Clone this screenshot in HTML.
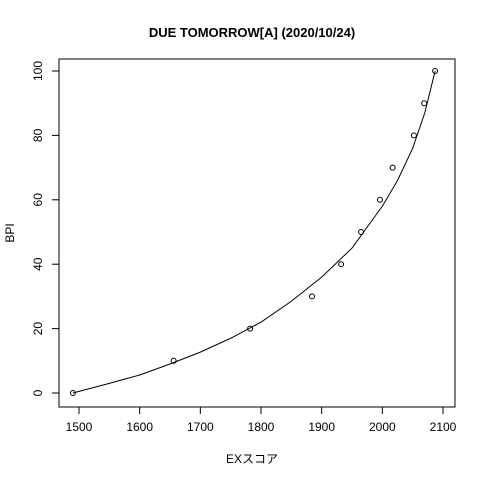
<!DOCTYPE html>
<html><head><meta charset="utf-8"><style>
body{margin:0;background:#fff}
svg text{font-family:"Liberation Sans","Noto Sans CJK JP",sans-serif;font-size:12px;fill:#000}
</style></head><body>
<svg width="480" height="480" xmlns="http://www.w3.org/2000/svg">
<rect width="480" height="480" fill="#fff"/>
<text x="252" y="37" text-anchor="middle" style="font-weight:bold;font-size:13px">DUE TOMORROW[A] (2020/10/24)</text>
<rect x="59" y="59" width="396" height="348" fill="none" stroke="#000"/>
<g id="axes"></g><g id="marks"></g>
<text x="252" y="463" text-anchor="middle">EXスコア</text>
<text transform="translate(14,233) rotate(-90)" text-anchor="middle">BPI</text>
</svg>
<script>
const xTicks=[1500,1600,1700,1800,1900,2000,2100];
const yTicks=[0,20,40,60,80,100];
const scores=[1490,1656,1782,1884,1932,1965,1996,2017,2052,2069,2087];
const bpi=[0,10,20,30,40,50,60,70,80,90,100];
const curveX=[1490,1500,1550,1600,1650,1700,1750,1800,1850,1900,1950,2000,2025,2050,2070,2087];
const curveY=[0,0.5,3,5.6,9,12.7,17,22,28.5,36,45,58,66,76,87,100];
const ns="http://www.w3.org/2000/svg";
const sx=v=>79+(v-1500)*(364/600);
const sy=v=>393-v*3.22;
const ax=document.getElementById('axes'),mk=document.getElementById('marks');
function mkEl(t,a,p){const e=document.createElementNS(ns,t);for(const k in a)e.setAttribute(k,a[k]);p.appendChild(e);return e;}
mkEl('line',{x1:sx(1500),x2:sx(2100),y1:407,y2:407,stroke:'#000'},ax);
mkEl('line',{x1:59,x2:59,y1:sy(0),y2:sy(100),stroke:'#000'},ax);
xTicks.forEach(t=>{
 const l=mkEl('line',{x1:sx(t),x2:sx(t),y1:407,y2:414,stroke:'#000'},ax);
 
 
 const tx=mkEl('text',{x:sx(t),y:431,'text-anchor':'middle'},ax);tx.textContent=t;
 
 
});
yTicks.forEach(t=>{
 const l=mkEl('line',{x1:52,x2:59,y1:sy(t),y2:sy(t),stroke:'#000'},ax);
 
 
 const tx=mkEl('text',{transform:`translate(42,${sy(t)}) rotate(-90)`,'text-anchor':'middle'},ax);tx.textContent=t;
 
 
});
const p=mkEl('polyline',{points:curveX.map((x,i)=>sx(x)+','+sy(curveY[i])).join(' '),fill:'none',stroke:'#000'},mk);


scores.forEach((s,i)=>{
 const c=mkEl('circle',{cx:sx(s),cy:sy(bpi[i]),r:2.5,fill:'none',stroke:'#000'},mk);
 
 
});
</script>
</body></html>
